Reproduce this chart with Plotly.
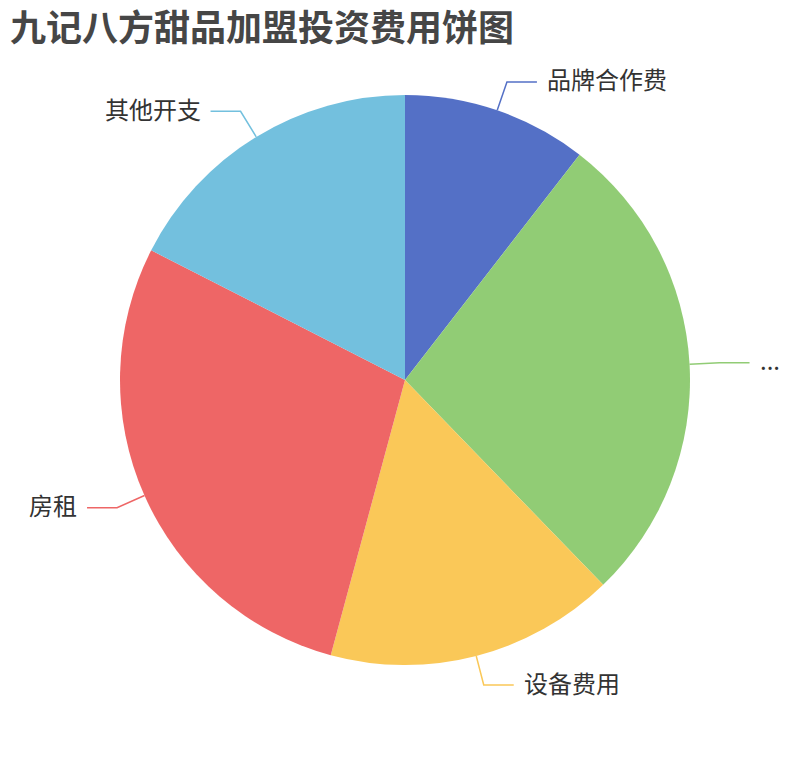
import math
import plotly.graph_objects as go

# data
labels = ["品牌合作费", "...", "设备费用", "房租", "其他开支"]
values = [3, 7.8, 4.7, 8.1, 5]
colors = ["#5470c6", "#91cc75", "#fac858", "#ee6666", "#73c0de"]
title = "九记八方甜品加盟投资费用饼图"

W, H = 810, 760
CX, CY, R = 405, 380, 285   # pie centre / radius in pixels


def px(x, y):
    return x / W, 1 - y / H


fig = go.Figure()
fig.add_trace(go.Pie(
    labels=labels,
    values=values,
    marker=dict(colors=colors, line=dict(width=0)),
    sort=False,
    direction="clockwise",
    rotation=0,
    textinfo="none",
    showlegend=False,
    domain=dict(x=[(CX - R) / W, (CX + R) / W],
                y=[1 - (CY + R) / H, 1 - (CY - R) / H]),
))

# leader lines + labels, echarts style
total = sum(values)
start = 0.0
shapes, annots = [], []
for lab, v, c in zip(labels, values, colors):
    mid = (start + v / 2) / total * 2 * math.pi
    start += v
    sx, sy = math.sin(mid), -math.cos(mid)
    p0 = (CX + R * sx, CY + R * sy)
    p1 = (CX + (R + 30) * sx, CY + (R + 30) * sy)
    side = 1 if sx >= 0 else -1
    p2 = (p1[0] + side * 30, p1[1])
    pts = [px(*p) for p in (p0, p1, p2)]
    path = "M {} {} L {} {} L {} {}".format(*[k for p in pts for k in p])
    shapes.append(dict(type="path", xref="paper", yref="paper", path=path,
                       line=dict(color=c, width=1.5)))
    tx, ty = px(p2[0] + side * 8, p2[1])
    annots.append(dict(x=tx, y=ty, xref="paper", yref="paper", text=lab,
                       showarrow=False, xanchor="left" if side > 0 else "right",
                       yanchor="middle", yshift=3,
                       font=dict(size=24, color="#333333",
                                 family="Noto Sans CJK SC")))

fig.update_layout(
    width=W, height=H,
    margin=dict(l=0, r=0, t=0, b=0),
    paper_bgcolor="white",
    plot_bgcolor="white",
    shapes=shapes,
    annotations=annots,
    title=dict(text=title, x=10 / W, xanchor="left", xref="paper",
               y=1 - 28 / H, yanchor="middle",
               font=dict(size=36, color="#464646", weight=700,
                         family="Noto Sans CJK SC")),
)

# drop the default body margin so the figure fills the window
fig.write_html("out.html", config={"displayModeBar": False},
               post_script="document.body.style.margin='0px';")
